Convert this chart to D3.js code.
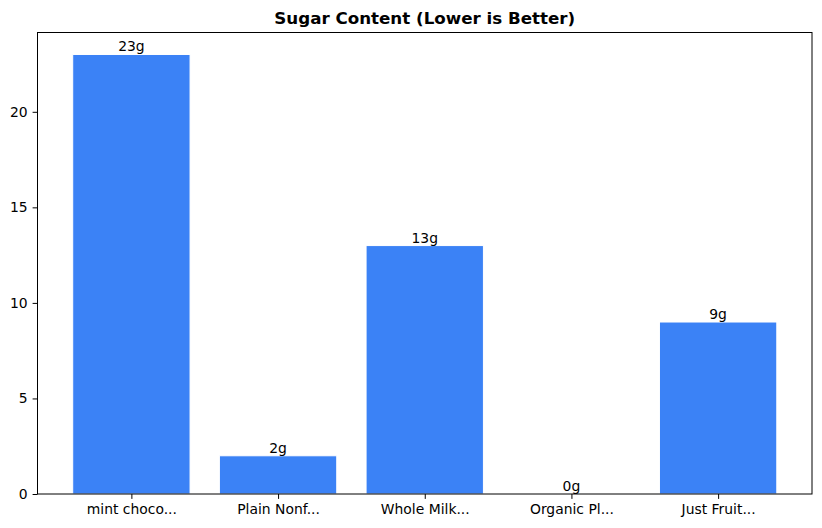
<!DOCTYPE html>
<html>
<head>
<meta charset="utf-8">
<script src="https://cdn.jsdelivr.net/npm/d3@7"></script>
<style>
  body { margin: 0; background: #fff; }
  text { font-family: "DejaVu Sans", sans-serif; }
</style>
</head>
<body>
<div id="chart"></div>
<script>
const products = ["mint choco...", "Plain Nonf...", "Whole Milk...", "Organic Pl...", "Just Fruit..."];
const sugar = [23, 2, 13, 0, 9];
const yTicks = [0, 5, 10, 15, 20];

const config = {
  width: 822,
  height: 528,
  margin: { top: 32.5, right: 10, bottom: 34, left: 37.5 },
};

const width = config.width - config.margin.left - config.margin.right;
const height = config.height - config.margin.top - config.margin.bottom;

const svg = d3
  .select("#chart")
  .append("svg")
  .attr("width", config.width)
  .attr("height", config.height);

const g = svg
  .append("g")
  .attr("transform", `translate(${config.margin.left},${config.margin.top})`);

// matplotlib-like limits: bars of width 0.8 with 5% margins
const xScale = d3.scaleLinear().domain([-0.64, products.length - 1 + 0.64]).range([0, width]);
const yScale = d3.scaleLinear().domain([0, d3.max(sugar) * 1.05]).range([height, 0]);
const barW = xScale(0.8) - xScale(0);

g.selectAll("rect.bar")
  .data(sugar)
  .join("rect")
  .attr("class", "bar")
  .attr("x", (d, i) => xScale(i - 0.4))
  .attr("y", (d) => yScale(d))
  .attr("width", barW)
  .attr("height", (d) => yScale(0) - yScale(d))
  .attr("fill", "#3b82f6")
  .attr("stroke", "white")
  .attr("stroke-width", 1);

g.selectAll("text.val")
  .data(sugar)
  .join("text")
  .attr("class", "val")
  .attr("x", (d, i) => xScale(i))
  .attr("y", (d) => yScale(d) - 3)
  .attr("text-anchor", "middle")
  .attr("font-size", "13.9px")
  .text((d) => `${d}g`);

const xAxis = d3
  .axisBottom(xScale)
  .tickValues(d3.range(products.length))
  .tickFormat((d) => products[d])
  .tickSize(4.9)
  .tickPadding(4.9);

const yAxis = d3
  .axisLeft(yScale)
  .tickValues(yTicks)
  .tickSize(4.9)
  .tickPadding(4.9);

const xg = g.append("g").attr("transform", `translate(0,${height})`).call(xAxis);
const yg = g.append("g").call(yAxis);

[xg, yg].forEach((a) => {
  a.select(".domain").remove();
  a.selectAll("text").attr("font-size", "13.9px").attr("fill", "black").style("font-family", "DejaVu Sans");
  a.selectAll("line").attr("stroke", "black").attr("stroke-width", 1);
});

g.append("rect")
  .attr("width", width)
  .attr("height", height)
  .attr("fill", "none")
  .attr("stroke", "black")
  .attr("stroke-width", 1);

svg
  .append("text")
  .attr("x", config.margin.left + width / 2)
  .attr("y", config.margin.top - 9)
  .attr("text-anchor", "middle")
  .attr("font-size", "16.7px")
  .attr("font-weight", "bold")
  .text("Sugar Content (Lower is Better)");
</script>
</body>
</html>
